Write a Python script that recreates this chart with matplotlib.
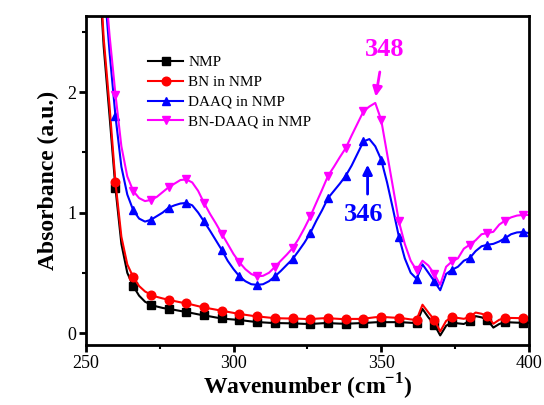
import numpy as np
import matplotlib
matplotlib.use("Agg")
import matplotlib.pyplot as plt
from matplotlib.ticker import MultipleLocator

plt.rcParams['font.family'] = ['Liberation Serif', 'DejaVu Serif']
plt.rcParams['mathtext.fontset'] = 'custom'
plt.rcParams['mathtext.rm'] = 'Liberation Serif'
plt.rcParams['mathtext.bf'] = 'Liberation Serif:bold'

# wavenumber grid (2 cm-1 step)
wavenumber = np.arange(254, 401, 2)

nmp = [3.2, 2.38, 1.8, 1.2, 0.74, 0.50, 0.39, 0.31, 0.26, 0.235,
       0.22, 0.208, 0.20, 0.192, 0.183, 0.174, 0.165, 0.155, 0.146, 0.138,
       0.129, 0.121, 0.116, 0.112, 0.108, 0.102, 0.096, 0.091, 0.088, 0.085,
       0.083, 0.082, 0.081, 0.08, 0.078, 0.076, 0.075, 0.078, 0.081, 0.083,
       0.08, 0.078, 0.077, 0.079, 0.081, 0.083, 0.086, 0.089, 0.09, 0.09,
       0.09, 0.09, 0.088, 0.085, 0.083, 0.20, 0.13, 0.07, -0.02, 0.06,
       0.09, 0.08, 0.075, 0.10, 0.14, 0.13, 0.11, 0.045, 0.075, 0.09,
       0.088, 0.086, 0.085, 0.085]

bn = [3.3, 2.45, 1.88, 1.25, 0.80, 0.57, 0.465, 0.39, 0.345, 0.318,
      0.30, 0.287, 0.276, 0.265, 0.255, 0.246, 0.235, 0.223, 0.212, 0.203,
      0.194, 0.185, 0.176, 0.167, 0.158, 0.151, 0.144, 0.138, 0.133, 0.128,
      0.124, 0.122, 0.121, 0.121, 0.119, 0.117, 0.116, 0.119, 0.122, 0.124,
      0.12, 0.117, 0.116, 0.117, 0.117, 0.119, 0.125, 0.131, 0.133, 0.131,
      0.128, 0.126, 0.12, 0.113, 0.11, 0.235, 0.17, 0.11, 0.013, 0.10,
      0.133, 0.125, 0.118, 0.133, 0.17, 0.16, 0.143, 0.077, 0.11, 0.124,
      0.125, 0.124, 0.124, 0.124]

daaq = [3.8, 2.95, 2.33, 1.80, 1.38, 1.15, 1.02, 0.95, 0.925, 0.94,
        0.97, 1.0, 1.04, 1.06, 1.075, 1.08, 1.06, 1.0, 0.926, 0.85,
        0.77, 0.69, 0.60, 0.53, 0.47, 0.43, 0.405, 0.40, 0.405, 0.43,
        0.47, 0.515, 0.565, 0.614, 0.68, 0.75, 0.83, 0.93, 1.02, 1.12,
        1.18, 1.24, 1.305, 1.39, 1.49, 1.59, 1.61, 1.55, 1.44, 1.25,
        1.03, 0.80, 0.62, 0.50, 0.45, 0.57, 0.50, 0.43, 0.355, 0.49,
        0.525, 0.55, 0.60, 0.622, 0.68, 0.72, 0.733, 0.74, 0.76, 0.788,
        0.82, 0.835, 0.838, 0.83]

bn_daaq = [3.8, 3.05, 2.47, 1.98, 1.55, 1.30, 1.18, 1.12, 1.095, 1.105,
           1.13, 1.17, 1.21, 1.24, 1.27, 1.275, 1.25, 1.18, 1.08, 0.99,
           0.91, 0.824, 0.74, 0.655, 0.586, 0.53, 0.49, 0.47, 0.475, 0.50,
           0.548, 0.60, 0.65, 0.705, 0.78, 0.87, 0.968, 1.08, 1.19, 1.305,
           1.38, 1.46, 1.535, 1.64, 1.74, 1.84, 1.88, 1.91, 1.77, 1.49,
           1.21, 0.926, 0.74, 0.60, 0.52, 0.60, 0.56, 0.49, 0.40, 0.55,
           0.594, 0.62, 0.70, 0.733, 0.77, 0.82, 0.83, 0.84, 0.90, 0.934,
           0.96, 0.975, 0.98, 0.98]

labels = ["NMP", "BN in NMP", "DAAQ in NMP", "BN-DAAQ in NMP"]
colors = ["black", "red", "blue", "magenta"]
markers = ["s", "o", "^", "v"]

fig = plt.figure(figsize=(5.44, 4.05), dpi=100)
ax = fig.add_axes([0.158, 0.148, 0.814, 0.812])

for ys, lab, c, m in zip([nmp, bn, daaq, bn_daaq], labels, colors, markers):
    ax.plot(wavenumber, ys, color=c, lw=1.5, marker=m, markersize=6.2,
            markevery=slice(3, None, 3), label=lab)

ax.set_xlim(250, 400)
ax.set_ylim(-0.1, 2.63)
ax.xaxis.set_major_locator(MultipleLocator(50))
ax.xaxis.set_minor_locator(MultipleLocator(25))
ax.yaxis.set_major_locator(MultipleLocator(1))
ax.yaxis.set_minor_locator(MultipleLocator(0.5))
ax.tick_params(which='major', direction='out', length=5, width=2, labelsize=13, pad=2)
ax.tick_params(which='minor', direction='out', length=3, width=1.5)
for s in ax.spines.values():
    s.set_linewidth(2)

ax.set_xlabel("Wavenumber (cm$^{\\mathbf{-1}}$)", fontsize=17, fontweight='bold', labelpad=0)
ax.set_ylabel("Absorbance (a.u.)", fontsize=17, fontweight='bold', labelpad=6)

ax.legend(loc='upper left', bbox_to_anchor=(0.14, 0.88), frameon=False,
          fontsize=11, borderpad=0, borderaxespad=0, handlelength=2.3,
          handletextpad=0.35, labelspacing=0.4)

# peak annotations
ax.annotate("", xy=(348.0, 1.94), xytext=(349.7, 2.19),
            arrowprops=dict(arrowstyle='-|>', color='magenta', lw=2, mutation_scale=14))
ax.text(351.1, 2.35, "348", color='magenta', fontsize=19, fontweight='bold',
        ha='center', va='center')
ax.annotate("", xy=(345.4, 1.42), xytext=(345.4, 1.13),
            arrowprops=dict(arrowstyle='-|>', color='blue', lw=2, mutation_scale=14))
ax.text(344.0, 0.98, "346", color='blue', fontsize=19, fontweight='bold',
        ha='center', va='center')

plt.savefig("out.png", dpi=100)
